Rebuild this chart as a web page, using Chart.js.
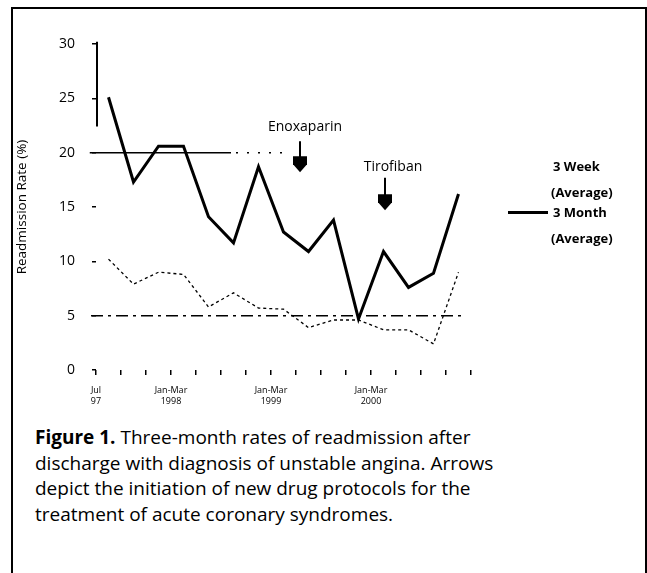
<!DOCTYPE html>
<html>
<head>
<meta charset="utf-8">
<script src="https://cdn.jsdelivr.net/npm/chart.js@4.4.0/dist/chart.umd.min.js"></script>
<style>
  body { margin: 0; background: #fff; }
  #frame { position: absolute; left: 11px; top: 7px; width: 632px; height: 580px; border: 2px solid #000; border-bottom: none; }
  #wrap { position: absolute; left: 0; top: 0; width: 647px; height: 420px; }
  .leg { position: absolute; font-family: "Open Sans", sans-serif; font-size: 13px; font-weight: bold; line-height: 16px; color: #000; white-space: nowrap; }
  .swatch { position: absolute; left: 508px; top: 211px; width: 40px; height: 3px; background: #000; }
  #caption { position: absolute; left: 35px; top: 425px; width: 600px; font-family: "Open Sans", sans-serif; font-size: 19px; line-height: 25.5px; color: #000; }
</style>
</head>
<body>
<div id="frame"></div>
<div id="wrap"><canvas id="chart"></canvas></div>
<div class="leg" style="left:553px;top:158px">3 Week</div>
<div class="leg" style="left:551px;top:184px">(Average)</div>
<div class="swatch"></div>
<div class="leg" style="left:553px;top:204px">3 Month</div>
<div class="leg" style="left:551px;top:230px">(Average)</div>
<div id="caption"><b>Figure 1.</b> Three-month rates of readmission after<br>discharge with diagnosis of unstable angina. Arrows<br>depict the initiation of new drug protocols for the<br>treatment of acute coronary syndromes.</div>
<script>
// readmission rate (%) per period
var monthAvg = [25.1, 17.3, 20.6, 20.6, 14.1, 11.7, 18.7, 12.7, 10.9, 13.8, 4.7, 10.9, 7.6, 8.9, 16.2];
var weekAvg = [10.2, 7.9, 9.0, 8.8, 5.8, 7.1, 5.7, 5.6, 3.9, 4.6, 4.6, 3.7, 3.7, 2.4, 9.0];

// x tick labels at period boundaries
var tickPos = [0, 3, 7, 11];
var tickText = [['Jul', '97'], ['Jan-Mar', '1998'], ['Jan-Mar', '1999'], ['Jan-Mar', '2000']];

var yTicks = [0, 5, 10, 15, 20, 25, 30];

// control limits
var upperLimit = 20;
var lowerLimit = 5;

// drug protocol arrows
var arrows = [
    { text: 'Enoxaparin', x: 8.16, labelX: 8.36, labelY: 22.35, top: 21.05, tip: 18.2 },
    { text: 'Tirofiban', x: 11.56, labelX: 11.88, labelY: 18.65, top: 17.7, tip: 14.7 }
];

var toPoints = function (arr) {
    return arr.map(function (v, i) { return { x: i + 0.5, y: v }; });
};

var arrowPlugin = {
    id: 'arrows',
    afterDatasetsDraw: function (chart) {
        var c = chart.ctx, xs = chart.scales.x, ys = chart.scales.y;
        c.save();
        c.fillStyle = '#000';
        c.strokeStyle = '#000';
        c.font = '14px "Open Sans", sans-serif';
        c.textAlign = 'center';
        c.textBaseline = 'middle';
        arrows.forEach(function (a) {
            var px = xs.getPixelForValue(a.x);
            var top = ys.getPixelForValue(a.top);
            var tip = ys.getPixelForValue(a.tip);
            c.fillText(a.text, xs.getPixelForValue(a.labelX), ys.getPixelForValue(a.labelY));
            c.lineWidth = 2;
            c.beginPath();
            c.moveTo(px, top);
            c.lineTo(px, tip - 14);
            c.stroke();
            c.beginPath();
            c.moveTo(px - 7, tip - 16);
            c.lineTo(px + 7, tip - 16);
            c.lineTo(px + 7, tip - 8);
            c.lineTo(px, tip);
            c.lineTo(px - 7, tip - 8);
            c.closePath();
            c.fill();
        });
        c.restore();
    }
};

var ctx = document.getElementById('chart').getContext('2d');
var chart = new Chart(ctx, {
    type: 'line',
    data: {
        datasets: [{
            label: '3 Month (Average)',
            data: toPoints(monthAvg),
            borderColor: '#000',
            borderWidth: 3,
            pointRadius: 0,
            tension: 0
        }, {
            label: '3 Week (Average)',
            data: toPoints(weekAvg),
            borderColor: '#000',
            borderWidth: 1.3,
            borderDash: [3, 3],
            pointRadius: 0,
            tension: 0
        }, {
            label: 'lower',
            data: [{ x: -0.2, y: lowerLimit }, { x: 14.6, y: lowerLimit }],
            borderColor: '#000',
            borderWidth: 1.5,
            borderDash: [12, 5, 3, 5],
            pointRadius: 0,
            clip: false
        }, {
            label: 'upper',
            data: [{ x: -0.25, y: upperLimit }, { x: 5.4, y: upperLimit }],
            borderColor: '#000',
            borderWidth: 1.5,
            pointRadius: 0,
            clip: false
        }, {
            label: 'upper dotted',
            data: [{ x: 5.6, y: upperLimit }, { x: 7.5, y: upperLimit }],
            borderColor: '#000',
            borderWidth: 1.5,
            borderDash: [2, 9],
            pointRadius: 0,
            clip: false
        }, {
            label: 'axis',
            data: [{ x: 0.04, y: 22.4 }, { x: 0.04, y: 30.2 }],
            borderColor: '#000',
            borderWidth: 2,
            pointRadius: 0,
            clip: false
        }]
    },
    options: {
        responsive: true,
        maintainAspectRatio: false,
        animation: false,
        layout: {
            padding: { top: 44, right: 176, bottom: 0, left: 0 }
        },
        scales: {
            x: {
                type: 'linear',
                min: 0,
                max: 15,
                afterFit: function (scale) { scale.height = 50; },
                afterBuildTicks: function (scale) {
                    var t = [];
                    for (var i = 0; i <= 15; i++) t.push({ value: i });
                    scale.ticks = t;
                },
                border: { display: false },
                grid: { drawOnChartArea: false, drawTicks: true, tickLength: 5, color: '#000', lineWidth: 1.5 },
                ticks: {
                    autoSkip: false,
                    maxRotation: 0,
                    padding: 10,
                    color: '#000',
                    font: { family: '"Open Sans", sans-serif', size: 9 },
                    callback: function (value) {
                        var idx = tickPos.indexOf(value);
                        return idx >= 0 ? tickText[idx] : '';
                    }
                }
            },
            y: {
                min: 0,
                max: 30,
                afterFit: function (scale) { scale.width = 96; },
                afterBuildTicks: function (scale) {
                    scale.ticks = yTicks.map(function (v) { return { value: v }; });
                },
                border: { display: false },
                grid: { drawOnChartArea: false, drawTicks: true, tickLength: 4, color: '#000', lineWidth: 1.5 },
                ticks: {
                    padding: 17,
                    color: '#000',
                    font: { family: '"Open Sans", sans-serif', size: 14 }
                },
                title: {
                    display: true,
                    text: 'Readmission Rate (%)',
                    color: '#000',
                    font: { family: '"Open Sans", sans-serif', size: 13.5 },
                    padding: { top: 14, bottom: 0 }
                }
            }
        },
        plugins: {
            legend: { display: false },
            tooltip: { enabled: false }
        }
    },
    plugins: [arrowPlugin]
});
</script>
</body>
</html>
